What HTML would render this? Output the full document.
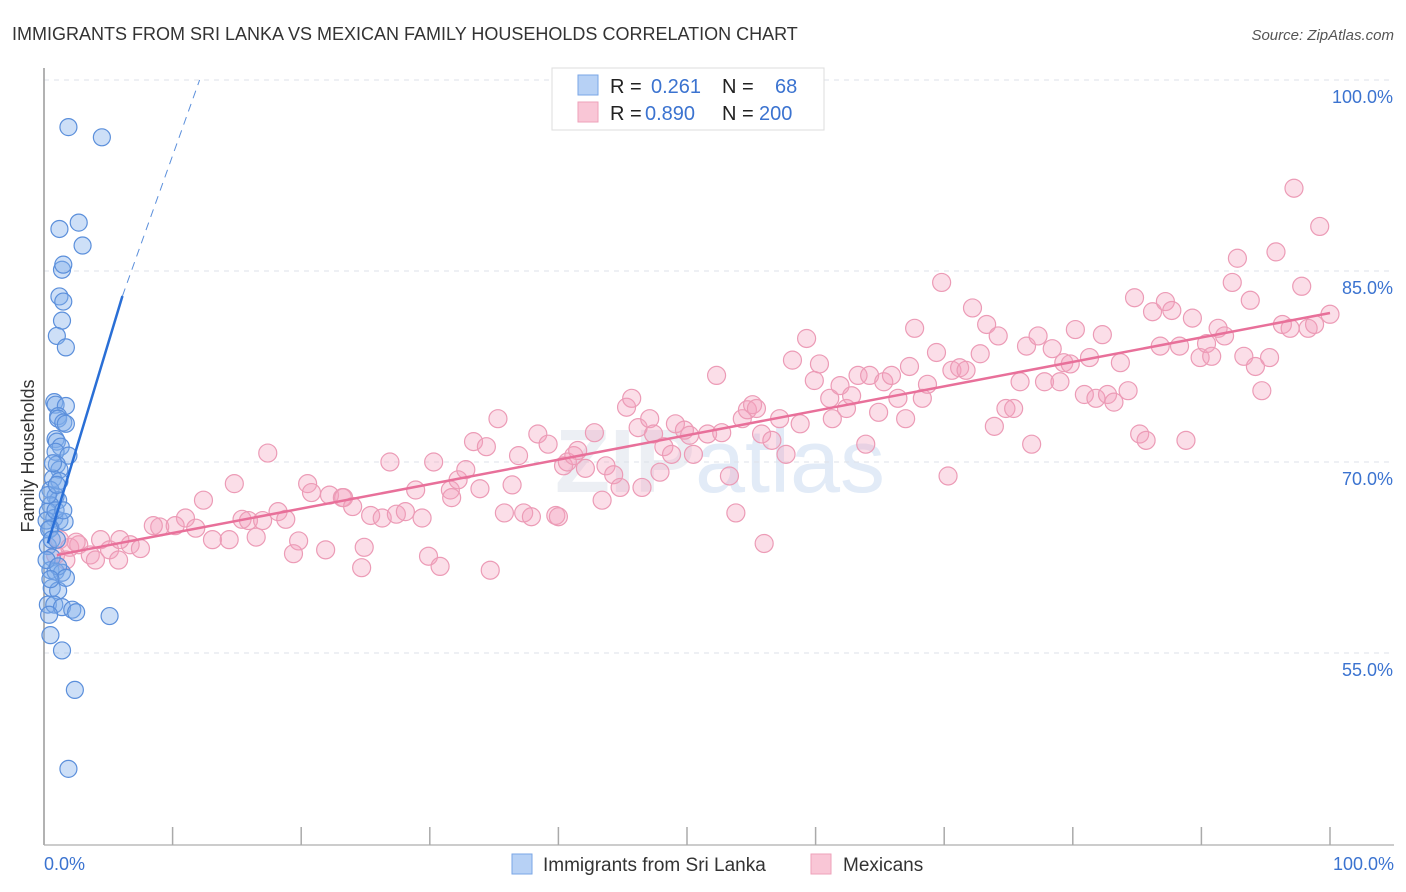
<!DOCTYPE html>
<html><head><meta charset="utf-8"><style>
body{margin:0;background:#fff;font-family:"Liberation Sans",sans-serif;}
#c{position:relative;width:1406px;height:892px;overflow:hidden;}
</style></head><body>
<div id="c">
<svg id="s" width="1406" height="892" xmlns="http://www.w3.org/2000/svg">
<text x="12" y="40" font-size="18" fill="#333">IMMIGRANTS FROM SRI LANKA VS MEXICAN FAMILY HOUSEHOLDS CORRELATION CHART</text>
<text x="1394" y="40" font-size="15" fill="#555" font-style="italic" text-anchor="end">Source: ZipAtlas.com</text>
<text x="34" y="456" font-size="18" fill="#333" text-anchor="middle" transform="rotate(-90 34 456)">Family Households</text>
<text x="720" y="492" font-size="90" fill="#eceff4" text-anchor="middle" font-weight="bold">ZIP<tspan fill="#e2ebf7" font-weight="normal">atlas</tspan></text>
<g id="grid"></g><g id="axes"></g><g id="pts"></g><g id="lines"></g>
<g>
<rect x="552" y="68" width="272" height="62" fill="#fff" stroke="#ddd"/>
<rect x="578" y="75" width="20" height="20" fill="#b7d1f5" stroke="#7aa6e6"/>
<rect x="578" y="102" width="20" height="20" fill="#f9c6d6" stroke="#eea1ba"/>
<text x="610" y="93" font-size="20" fill="#222">R = <tspan x="651" fill="#3b73d0">0.261</tspan><tspan x="722" fill="#222">N =</tspan><tspan x="775" fill="#3b73d0">68</tspan></text>
<text x="610" y="120" font-size="20" fill="#222">R = <tspan x="645" fill="#3b73d0">0.890</tspan><tspan x="722" fill="#222">N =</tspan><tspan x="759" fill="#3b73d0">200</tspan></text>
</g>
<g>
<rect x="512" y="854" width="20" height="20" fill="#b7d1f5" stroke="#7aa6e6"/>
<text x="543" y="871" font-size="19" fill="#333">Immigrants from Sri Lanka</text>
<rect x="811" y="854" width="20" height="20" fill="#f9c6d6" stroke="#eea1ba"/>
<text x="843" y="871" font-size="19" fill="#333">Mexicans</text>
</g>
<text x="44" y="870" font-size="18" fill="#3b73d0">0.0%</text>
<text x="1394" y="870" font-size="18" fill="#3b73d0" text-anchor="end">100.0%</text>
</svg>
</div>
<script>
const yTicks=[100,85,70,55];
const yTickLabels=["100.0%","85.0%","70.0%","55.0%"];
const xTicks=[0,10,20,30,40,50,60,70,80,90,100];
const pinkX=[17.4,14.8,12.4,11.0,9.0,8.5,10.2,11.8,13.1,14.4,15.4,16.5,15.9,17.0,18.2,18.8,19.8,19.4,20.5,20.8,21.9,22.2,23.2,23.3,24.0,24.7,24.9,25.4,26.3,26.9,27.4,28.1,28.9,29.4,29.9,30.3,30.8,31.6,31.7,32.2,32.8,33.4,33.9,34.4,34.7,35.3,35.8,36.4,36.9,37.3,37.9,38.4,39.2,39.8,40.0,40.4,40.7,41.2,41.5,42.1,42.8,43.4,43.7,44.3,44.8,45.3,45.7,46.2,46.5,47.1,47.4,47.9,48.2,48.8,49.1,49.8,50.2,50.5,51.6,52.3,52.7,53.3,53.8,54.3,54.7,55.1,55.4,55.8,56.0,56.6,57.2,57.7,58.2,58.8,59.3,59.9,60.3,61.1,61.3,61.9,62.4,62.8,63.3,63.9,64.2,64.9,65.3,65.9,66.4,67.0,67.3,67.7,68.3,68.7,69.4,69.8,70.3,70.6,71.2,71.7,72.2,72.8,73.3,73.9,74.2,74.8,75.4,75.9,76.4,76.8,77.3,77.8,78.4,79.0,79.3,79.8,80.2,80.9,81.3,81.8,82.3,82.7,83.2,83.7,84.3,84.8,85.2,85.7,86.2,86.8,87.2,87.7,88.3,88.8,89.3,89.9,90.4,90.8,91.3,91.8,92.4,92.8,93.3,93.8,94.2,94.7,95.3,95.8,96.3,96.9,97.2,97.8,98.3,98.8,99.2,100,1.2,2.0,2.7,3.6,4.4,5.1,5.8,6.7,7.5,0.9,1.7,2.5,4.0,5.9];
const pinkY=[70.7,68.3,67.0,65.6,64.9,65.0,65.0,64.8,63.9,63.9,65.5,64.1,65.4,65.4,66.1,65.5,63.8,62.8,68.3,67.6,63.1,67.4,67.2,67.2,66.5,61.7,63.3,65.8,65.6,70.0,65.9,66.1,67.8,65.6,62.6,70.0,61.8,67.8,67.2,68.6,69.4,71.6,67.9,71.2,61.5,73.4,66.0,68.2,70.5,66.0,65.7,72.2,71.4,65.8,65.7,69.7,70.0,70.5,70.9,69.5,72.3,67.0,69.7,69.0,68.0,74.3,75.0,72.7,68.0,73.4,72.2,69.2,71.2,70.6,73.0,72.5,72.1,70.6,72.2,76.8,72.3,68.9,66.0,73.4,74.1,74.5,74.2,72.2,63.6,71.7,73.4,70.6,78.0,73.0,79.7,76.4,77.7,75.0,73.4,76.0,74.2,75.2,76.8,71.4,76.8,73.9,76.3,76.8,75.0,73.4,77.5,80.5,75.0,76.1,78.6,84.1,68.9,77.2,77.4,77.2,82.1,78.5,80.8,72.8,79.9,74.2,74.2,76.3,79.1,71.4,79.9,76.3,78.9,76.3,77.8,77.7,80.4,75.3,78.2,75.0,80.0,75.3,74.7,77.8,75.6,82.9,72.2,71.7,81.8,79.1,82.6,81.9,79.1,71.7,81.3,78.2,79.3,78.3,80.5,79.9,84.1,86.0,78.3,82.7,77.5,75.6,78.2,86.5,80.8,80.5,91.5,83.8,80.5,80.8,88.5,81.6,63.9,63.3,63.5,62.7,63.9,63.1,62.3,63.5,63.2,62.7,62.3,63.7,62.3,63.9];
const blueX=[1.9,4.5,2.7,1.2,3.0,1.4,1.5,1.2,1.5,1.4,1.0,1.7,0.8,0.9,1.7,1.1,1.1,1.5,0.9,1.7,1.0,1.3,0.9,1.9,1.0,1.2,0.7,1.2,0.5,0.9,1.1,0.5,0.3,0.8,1.2,1.6,0.5,0.3,0.6,0.5,0.9,1.4,0.6,1.1,0.3,0.8,1.4,2.2,2.5,5.1,0.5,1.4,2.4,1.9,0.2,0.4,0.6,0.2,0.9,0.3,0.7,1.0,1.1,1.7,0.4,0.5,1.0,1.5];
const blueY=[96.3,95.5,88.8,88.3,87.0,85.1,85.5,83.0,82.6,81.1,79.9,79.0,74.7,74.5,74.4,73.6,73.4,73.1,71.8,73.0,71.6,71.2,70.8,70.5,69.8,69.4,68.7,68.5,67.8,67.3,67.0,66.6,66.1,65.6,65.4,65.3,64.8,63.4,62.5,61.5,61.4,61.3,60.1,59.9,58.8,58.8,58.6,58.4,58.2,57.9,56.4,55.2,52.1,45.9,65.4,64.7,63.9,62.3,66.2,67.4,69.9,68.2,61.8,60.9,58.0,60.8,63.9,66.2];
const blueFit=[62.6,3.35];   // intercept, slope (solid segment)
const pinkFit=[62.5,0.192];
const blueSolidEnd=6.1;
const blueDashEnd=12.1;

const NS="http://www.w3.org/2000/svg";
const xs=v=>44+v*12.86;
const ys=v=>80+(100-v)*12.733;
function mk(tag,attrs,parent){const e=document.createElementNS(NS,tag);for(const k in attrs)e.setAttribute(k,attrs[k]);parent.appendChild(e);return e;}
const grid=document.getElementById('grid'),axes=document.getElementById('axes'),pts=document.getElementById('pts'),lines=document.getElementById('lines'),svg=document.getElementById('s');
yTicks.forEach((t,i)=>{
  const l=mk('line',{x1:44,x2:1394,y1:ys(t),y2:ys(t),stroke:'#dde2e8','stroke-dasharray':'5,5'},grid);
  
  
  const tx=mk('text',{x:1393,y:ys(t)+23,'font-size':18,fill:'#3b73d0','text-anchor':'end'},svg);
  tx.textContent=yTickLabels[i];
  
  
});
const ax=mk('line',{x1:44,x2:44,y1:68,y2:845,stroke:'#999','stroke-width':1.5},axes);


const bx=mk('line',{x1:44,x2:1394,y1:845,y2:845,stroke:'#bbb','stroke-width':1.5},axes);


xTicks.forEach(t=>{
  const l=mk('line',{x1:xs(t),x2:xs(t),y1:827,y2:845,stroke:'#aaa','stroke-width':1.5},axes);
  
  
});
pinkX.forEach((x,i)=>{
  const c=mk('circle',{cx:xs(x),cy:ys(pinkY[i]),r:9,fill:'rgba(243,160,188,0.35)',stroke:'#ec9bb6','stroke-width':1.2},pts);
  
  
});
blueX.forEach((x,i)=>{
  const c=mk('circle',{cx:xs(x),cy:ys(blueY[i]),r:8.5,fill:'rgba(130,175,235,0.4)',stroke:'#5b8fdb','stroke-width':1.2},pts);
  
  
});
const pl=mk('line',{x1:xs(1),y1:ys(pinkFit[0]+pinkFit[1]*1),x2:xs(100),y2:ys(pinkFit[0]+pinkFit[1]*100),stroke:'#e8709a','stroke-width':2.5},lines);


const bl=mk('line',{x1:xs(0.3),y1:ys(blueFit[0]+blueFit[1]*0.3),x2:xs(blueSolidEnd),y2:ys(blueFit[0]+blueFit[1]*blueSolidEnd),stroke:'#2a6fd6','stroke-width':2.5},lines);


const bd=mk('line',{x1:xs(blueSolidEnd),y1:ys(blueFit[0]+blueFit[1]*blueSolidEnd),x2:xs(blueDashEnd),y2:ys(100),stroke:'#5b8fdb','stroke-width':1,'stroke-dasharray':'8,6'},lines);


</script>
</body></html>
